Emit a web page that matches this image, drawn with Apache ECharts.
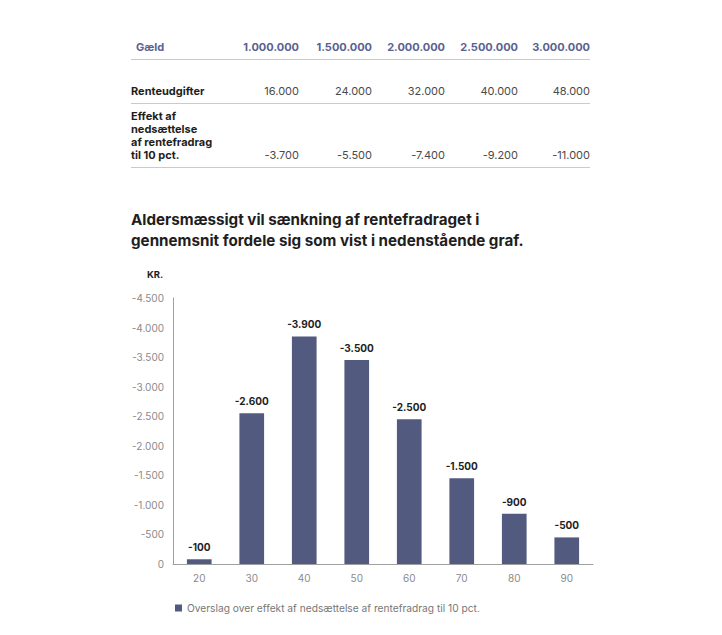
<!DOCTYPE html>
<html>
<head>
<meta charset="utf-8">
<script src="https://cdn.jsdelivr.net/npm/echarts@6/dist/echarts.min.js"></script>
<style>
  html, body { margin: 0; padding: 0; background: #ffffff; }
  body { width: 722px; height: 635px; position: relative; overflow: hidden; font-family: Inter, "Noto Sans", sans-serif; }
  #chart { position: absolute; left: 0; top: 0; width: 722px; height: 635px; }
  .abs { position: absolute; white-space: nowrap; }
  .hdr { font-weight: 700; color: #5a6291; font-size: 11px; line-height: 13px; }
  .rowlab { font-weight: 700; color: #1e1e1e; font-size: 11px; line-height: 13px; }
  .val { color: #4a4a4a; font-size: 11px; line-height: 13px; text-align: right; font-weight: 400; }
  .rule { position: absolute; left: 131px; width: 459px; height: 1px; background: #c9c8d6; }
  .title { font-weight: 700; color: #1e1e1e; font-size: 15.2px; line-height: 21px; left: 131px; }
</style>
</head>
<body>
<div id="chart"></div>
<div id="overlay"></div>
<script>
// ---- Table data ----
var tableHeaderLabel = 'Gæld';
var debtLevels = [1000000, 1500000, 2000000, 2500000, 3000000];
var rowInterestLabel = 'Renteudgifter';
var interestExpenses = [16000, 24000, 32000, 40000, 48000];
var rowEffectLabel = ['Effekt af', 'nedsættelse', 'af rentefradrag', 'til 10 pct.'];
var effectValues = [-3700, -5500, -7400, -9200, -11000];

// ---- Title ----
var titleLines = ['Aldersmæssigt vil sænkning af rentefradraget i', 'gennemsnit fordele sig som vist i nedenstående graf.'];

// ---- Chart data ----
var ageCategories = ['20', '30', '40', '50', '60', '70', '80', '90'];
var barValues = [80, 2550, 3850, 3450, 2450, 1450, 850, 450];
var barLabels = ['-100', '-2.600', '-3.900', '-3.500', '-2.500', '-1.500', '-900', '-500'];
var seriesName = 'Overslag over effekt af nedsættelse af rentefradrag til 10 pct.';
var yUnit = 'KR.';
var yMin = 0, yMax = 4500, yStep = 500;

function fmt(n) {
  var neg = n < 0; var s = String(Math.abs(n));
  s = s.replace(/\B(?=(\d{3})+(?!\d))/g, '.');
  return (neg ? '-' : '') + s;
}

// ---- Build table overlay ----
var ov = document.getElementById('overlay');
function add(html, cls, style) {
  var d = document.createElement('div');
  d.className = 'abs ' + cls; d.setAttribute('style', style); d.innerHTML = html; ov.appendChild(d); return d;
}
var colRight = [299, 372, 445, 518, 590];
add(tableHeaderLabel, 'hdr', 'left:136px;top:41px;');
debtLevels.forEach(function (v, i) { add(fmt(v), 'hdr', 'right:' + (722 - colRight[i]) + 'px;top:41px;'); });
add('', 'rule', 'top:59px;');
add(rowInterestLabel, 'rowlab', 'left:131px;top:85px;');
interestExpenses.forEach(function (v, i) { add(fmt(v), 'val', 'right:' + (722 - colRight[i]) + 'px;top:85px;'); });
add('', 'rule', 'top:103px;');
add(rowEffectLabel.join('<br>'), 'rowlab', 'left:131px;top:110px;');
effectValues.forEach(function (v, i) { add(fmt(v), 'val', 'right:' + (722 - colRight[i]) + 'px;top:149px;'); });
add('', 'rule', 'top:167px;');
add(titleLines.join('<br>'), 'title', 'top:209px;');

// ---- Chart ----
var chart = echarts.init(document.getElementById('chart'), null, { renderer: 'svg' });
chart.setOption({
  animation: false,
  textStyle: { fontFamily: 'Inter, "Noto Sans", sans-serif' },
  grid: { left: 173, top: 298, width: 420, height: 266, containLabel: false },
  legend: {
    left: 170, top: 598, itemWidth: 7, itemHeight: 7, icon: 'rect', itemGap: 10,
    textStyle: { color: '#777777', fontSize: 10.2 },
    data: [seriesName]
  },
  graphic: [{
    type: 'text', left: 147, top: 269,
    style: { text: yUnit, fill: '#1e1e1e', font: 'bold 9.5px Inter, "Noto Sans", sans-serif' }
  }],
  xAxis: {
    type: 'category', data: ageCategories,
    axisLine: { lineStyle: { color: '#a0a0a0', width: 1 } },
    axisTick: { show: false },
    axisLabel: { color: '#8a8a8a', fontSize: 10, margin: 9 }
  },
  yAxis: {
    type: 'value', min: yMin, max: yMax, interval: yStep,
    axisLine: { show: true, lineStyle: { color: '#a0a0a0', width: 1 } },
    axisTick: { show: false },
    splitLine: { show: false },
    axisLabel: { color: '#8a8a8a', fontSize: 10, margin: 9,
      formatter: function (v) { return v === 0 ? '0' : fmt(-v); } }
  },
  series: [{
    type: 'bar', name: seriesName, data: barValues,
    barWidth: '47%',
    itemStyle: { color: '#525a80' },
    label: {
      show: true, position: 'top', distance: 7,
      color: '#1e1e1e', fontSize: 10, fontWeight: 'bold',
      formatter: function (p) { return barLabels[p.dataIndex]; }
    }
  }]
});
</script>
</body>
</html>
